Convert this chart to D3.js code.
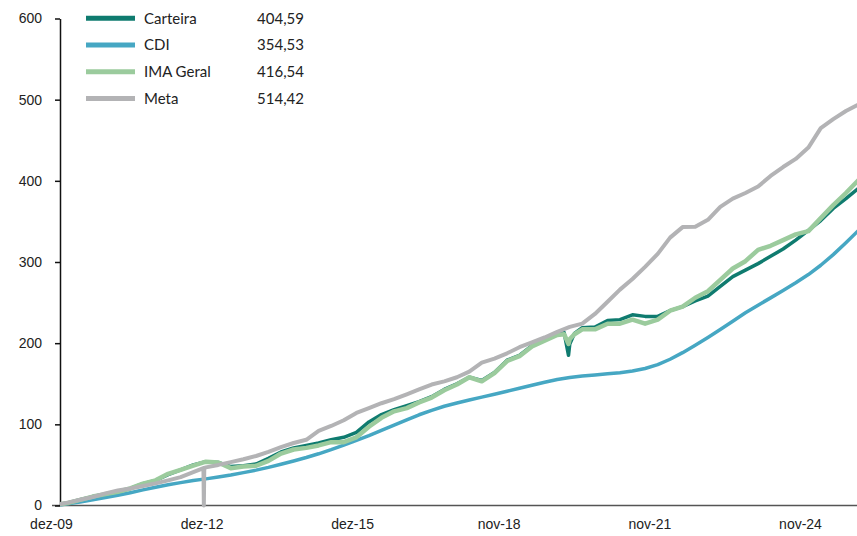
<!DOCTYPE html>
<html>
<head>
<meta charset="utf-8">
<script src="https://cdn.jsdelivr.net/npm/d3@7"></script>
<style>
  body { margin: 0; background: #fff; }
  svg { display: block; font-family: Lato, "Open Sans", sans-serif; }
  .axis text { font-size: 14px; fill: #222; }
</style>
</head>
<body>
<div id="chart"></div>
<script>
// quarterly dates (first day of month)
const quarters = [
  "2010-01","2010-04","2010-07","2010-10",
  "2011-01","2011-04","2011-07","2011-10",
  "2012-01","2012-04","2012-07","2012-10",
  "2013-01","2013-04","2013-07","2013-10",
  "2014-01","2014-04","2014-07","2014-10",
  "2015-01","2015-04","2015-07","2015-10",
  "2016-01","2016-04","2016-07","2016-10",
  "2017-01","2017-04","2017-07","2017-10",
  "2018-01","2018-04","2018-07","2018-10",
  "2019-01","2019-04","2019-07","2019-10",
  "2020-01","2020-04","2020-07","2020-10",
  "2021-01","2021-04","2021-07","2021-10",
  "2022-01","2022-04","2022-07","2022-10",
  "2023-01","2023-04","2023-07","2023-10",
  "2024-01","2024-04","2024-07","2024-10",
  "2025-01","2025-04","2025-07","2025-10",
  "2026-01","2026-04"
];

const carteira = [
  0.5, 3, 7, 11,   14, 17, 21, 27,   31, 38, 44, 50,   54, 53, 48, 49,
  51, 58, 66, 71,  74, 77, 81, 84,   90, 103, 112, 118, 123, 128, 134, 143,
  150, 158, 154, 164, 179, 185, 197, 204, 211, 199, 219, 220, 228, 229, 235, 233,
  233, 240, 245, 252, 258, 270, 282, 290, 298, 307, 316, 327, 339, 351, 366, 378,
  391, 404.59
];
const cdi = [
  0, 2.0, 4.3, 7.0,   9.8, 12.6, 15.8, 19.3,   22.5, 25.5, 28.2, 30.7,
  32.8, 35.1, 37.6, 40.5,   43.6, 47.0, 50.8, 54.9,   59.1, 63.7, 68.8, 74.4,
  80.2, 86.1, 92.5, 99.0,   105.6, 111.8, 117.3, 122.3,   126.3, 129.9, 133.5, 137.1,
  140.8, 144.4, 148.2, 151.9,   155.2, 157.8, 159.6, 160.9,   162.2, 163.5, 165.6, 168.8,
  173.6, 180.2, 188.3, 197.5,   207.1, 216.9, 227.1, 237.4,   246.8, 255.8, 264.9, 274.4,
  284.5, 296.0, 309.1, 323.8,   339.0, 354.53
];
const imaGeral = [
  0.5, 3, 7, 11,   14, 17, 21, 27,   31, 39, 44, 49,   54, 53, 46, 48,
  49, 55, 64, 69,  71, 74, 78, 78,   84, 97, 108, 116,  120, 127, 133, 142,
  149, 158, 153, 163, 178, 184, 196, 203, 210, 205, 217, 217, 224, 224, 229, 224,
  229, 240, 245, 256, 264, 278, 292, 301, 315, 320, 327, 334, 338, 354, 370, 385,
  401, 416.54
];
const meta = [
  0.5, 3.5, 7, 10.5,   15, 18.5, 21, 24,   27.3, 31, 35, 41,   47, 50, 53.5, 57,
  61, 66, 72, 77,   81, 92, 98, 105,   114, 120, 126, 131,   137, 143, 149, 153,
  158, 165, 176, 181,   187.5, 195, 201, 207,   214, 220, 224, 236,   251, 266, 279, 294,
  310, 330, 343, 343.5,   352, 368, 378, 385,   393, 406, 417, 427,   441, 465, 476, 486,
  494, 514.42
];

// short-lived features seen in the picture
const metaGlitchDates = ["2012-12-14", "2012-12-17", "2012-12-20"];
const metaGlitch = [46, 0, 46];
const covidDates = ["2020-02-20", "2020-03-23", "2020-05-05"];
const carteiraCovid = [213, 185, 212];
const imaGeralCovid = [211, 199, 211];

const legendValues = ["404,59", "354,53", "416,54", "514,42"];

const W = 857, H = 536;
const parseMonth = d3.timeParse("%Y-%m");
const parseDay = d3.timeParse("%Y-%m-%d");

function buildSeries(values, extraDates, extraValues) {
  let pts = quarters.map((q, i) => ({ date: parseMonth(q), value: values[i] }));
  if (extraDates) extraDates.forEach((d, i) => pts.push({ date: parseDay(d), value: extraValues[i] }));
  return pts.sort((a, b) => a.date - b.date);
}

const series = [
  { name: "Carteira", color: "#0f7b6f", width: 3.5, points: buildSeries(carteira, covidDates, carteiraCovid) },
  { name: "CDI", color: "#46a7c3", width: 3.5, points: buildSeries(cdi) },
  { name: "IMA Geral", color: "#9bcb9d", width: 4.5, points: buildSeries(imaGeral, covidDates, imaGeralCovid) },
  { name: "Meta", color: "#b3b3b5", width: 4, points: buildSeries(meta, metaGlitchDates, metaGlitch) }
];

const ptBR = d3.timeFormatLocale({
  dateTime: "%d/%m/%Y %H:%M:%S", date: "%d/%m/%Y", time: "%H:%M:%S",
  periods: ["AM", "PM"],
  days: ["domingo","segunda","terça","quarta","quinta","sexta","sábado"],
  shortDays: ["dom","seg","ter","qua","qui","sex","sáb"],
  months: ["janeiro","fevereiro","março","abril","maio","junho","julho","agosto","setembro","outubro","novembro","dezembro"],
  shortMonths: ["jan","fev","mar","abr","mai","jun","jul","ago","set","out","nov","dez"]
});
const fmt = ptBR.format("%b-%y");

const svg = d3.select("#chart").append("svg")
  .attr("width", W)
  .attr("height", H);

const x = d3.scaleTime()
  .domain([new Date(2009, 11, 1), new Date(2024, 10, 1)])
  .range([51, 800]);

const y = d3.scaleLinear()
  .domain([0, 600])
  .range([505.5, 18.5]);

const xTicks = [new Date(2009, 11, 1), new Date(2012, 11, 1), new Date(2015, 11, 1),
                new Date(2018, 10, 1), new Date(2021, 10, 1), new Date(2024, 10, 1)];

// x axis
const xAxis = svg.append("g")
  .attr("class", "axis")
  .attr("transform", "translate(0," + y(0) + ")")
  .call(d3.axisBottom(x).tickValues(xTicks).tickFormat(fmt).tickSize(0).tickPadding(14));
xAxis.select(".domain").attr("d", "M52,0H" + W).attr("stroke", "#555").attr("stroke-width", 1.5);

// y axis
const yAxis = svg.append("g")
  .attr("class", "axis")
  .attr("transform", "translate(60,0)")
  .call(d3.axisLeft(y).tickValues(d3.range(0, 601, 100)).tickSize(5).tickSizeOuter(0).tickPadding(13));
yAxis.select(".domain").attr("stroke", "#111").attr("stroke-width", 1.5);
yAxis.selectAll(".tick line").attr("stroke", "#111").attr("stroke-width", 1.5);

// lines
const line = d3.line()
  .x(d => x(d.date))
  .y(d => y(d.value));

svg.append("defs").append("clipPath").attr("id", "plot")
  .append("rect").attr("x", 60).attr("y", 0).attr("width", W - 60).attr("height", 510);

svg.append("g").attr("clip-path", "url(#plot)")
  .selectAll("path")
  .data(series)
  .join("path")
  .attr("fill", "none")
  .attr("stroke", d => d.color)
  .attr("stroke-width", d => d.width)
  .attr("stroke-linejoin", "round")
  .attr("d", d => line(d.points));

// legend
const legend = svg.append("g").selectAll("g")
  .data(series)
  .join("g")
  .attr("transform", (d, i) => "translate(0," + (18.3 + i * 26.7) + ")");

legend.append("line")
  .attr("x1", 86).attr("x2", 135)
  .attr("stroke", d => d.color)
  .attr("stroke-width", 5);

legend.append("text")
  .attr("x", 144)
  .attr("dy", "0.35em")
  .style("font-size", "15px")
  .attr("fill", "#222")
  .text(d => d.name);

legend.append("text")
  .attr("x", 304)
  .attr("dy", "0.35em")
  .attr("text-anchor", "end")
  .style("font-size", "15px")
  .attr("fill", "#222")
  .text((d, i) => legendValues[i]);
</script>
</body>
</html>
